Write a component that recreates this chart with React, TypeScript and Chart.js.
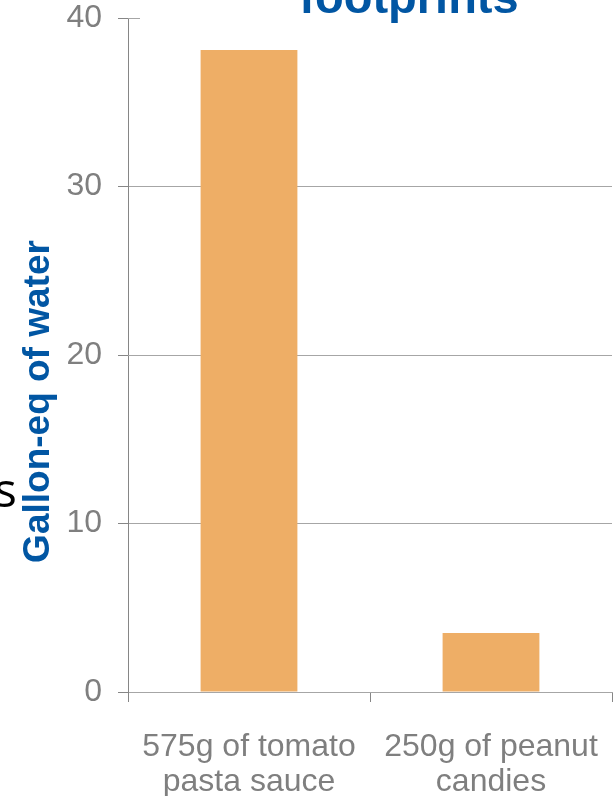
import { useEffect, useRef } from 'react';
import { Chart, registerables } from 'chart.js';

Chart.register(...registerables);

// Water footprint per product (gallon-equivalents)
const categories: string[][] = [
  ['575g of tomato', 'pasta sauce'],
  ['250g of peanut', 'candies'],
];
const waterGallons: number[] = [38.1, 3.5];
const yTickValues: number[] = [0, 10, 20, 30, 40];
const chartTitle = 'footprints';
const yAxisTitle = 'Gallon-eq of water';
const sideText = 's';

const FONT = '"Liberation Sans", Arial, Helvetica, sans-serif';
const TICK_TEXT = '#7f7f7f';
const GRID = '#a6a6a6';
const AXIS = '#868686';
const BAR = '#EEAE66';
const BLUE = '#0156A3';

const W = 613;
const H = 796;

// Titles and the stub of the top gridline, drawn over the finished chart
const overlayText = {
  id: 'overlayText',
  afterDraw(chart: any) {
    const { ctx, chartArea, scales } = chart;
    const yScale = scales.y;
    ctx.save();

    const yTop = Math.round(yScale.getPixelForValue(yTickValues[yTickValues.length - 1])) + 0.5;
    ctx.strokeStyle = GRID;
    ctx.lineWidth = 1;
    ctx.beginPath();
    ctx.moveTo(chartArea.left, yTop);
    ctx.lineTo(chartArea.left + 12, yTop);
    ctx.stroke();

    ctx.fillStyle = BLUE;
    ctx.font = `bold 47px ${FONT}`;
    ctx.textAlign = 'center';
    ctx.textBaseline = 'alphabetic';
    ctx.fillText(chartTitle, 409, 12.5);

    ctx.save();
    ctx.translate(49, 401.5);
    ctx.rotate(-Math.PI / 2);
    ctx.font = `bold 37px ${FONT}`;
    ctx.textAlign = 'center';
    ctx.textBaseline = 'alphabetic';
    ctx.fillText(yAxisTitle, 0, 0);
    ctx.restore();

    ctx.fillStyle = '#000000';
    ctx.font = `48px "Open Sans", "Noto Sans", sans-serif`;
    ctx.textAlign = 'left';
    ctx.fillText(sideText, -6, 507);

    ctx.restore();
  },
};

export default function App() {
  const canvasRef = useRef<HTMLCanvasElement | null>(null);

  useEffect(() => {
    const canvas = canvasRef.current;
    if (!canvas) return;
    const chart = new Chart(canvas, {
      type: 'bar',
      data: {
        labels: categories,
        datasets: [
          {
            data: waterGallons,
            backgroundColor: BAR,
            borderWidth: 0,
            categoryPercentage: 1,
            barPercentage: 0.4,
          },
        ],
      },
      options: {
        responsive: false,
        animation: false,
        devicePixelRatio: 1,
        layout: { padding: { top: 18, right: 1, left: 0, bottom: 0 } },
        plugins: {
          legend: { display: false },
          title: { display: false },
          tooltip: { enabled: false },
        },
        scales: {
          x: {
            grid: {
              drawOnChartArea: false,
              drawTicks: true,
              tickLength: 10,
              tickColor: AXIS,
              offset: true,
            },
            border: { color: GRID, width: 1 },
            ticks: {
              color: TICK_TEXT,
              font: { family: FONT, size: 32, lineHeight: 1.08 },
              padding: 28,
              maxRotation: 0,
              autoSkip: false,
            },
            afterFit(scale: any) {
              scale.height = 104;
              scale.paddingLeft = 0;
              scale.paddingRight = 0;
            },
          },
          y: {
            min: 0,
            max: 40,
            ticks: {
              stepSize: 10,
              color: TICK_TEXT,
              font: { family: FONT, size: 32 },
              padding: 16,
              callback: (v: any) => (yTickValues.includes(Number(v)) ? String(v) : ''),
            },
            grid: {
              color: (c: any) =>
                c.tick && c.tick.value === yTickValues[yTickValues.length - 1] ? 'rgba(0,0,0,0)' : GRID,
              tickColor: AXIS,
              tickLength: 10,
              lineWidth: 1,
            },
            border: { color: AXIS, width: 1 },
            afterFit(scale: any) {
              scale.width = 128;
              scale.paddingTop = 0;
              scale.paddingBottom = 0;
            },
          },
        },
      },
      plugins: [overlayText],
    });
    return () => chart.destroy();
  }, []);

  return (
    <div style={{ position: 'absolute', left: 0, top: 0, width: W, height: H, background: '#ffffff' }}>
      <canvas ref={canvasRef} width={W} height={H} style={{ display: 'block' }} />
    </div>
  );
}
